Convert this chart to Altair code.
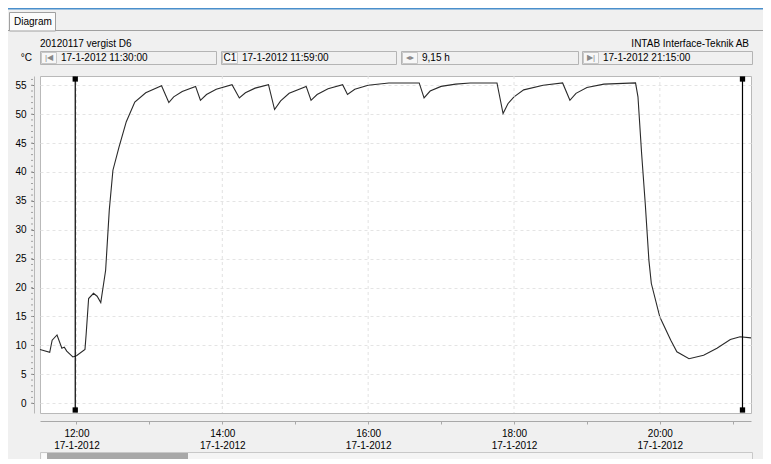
import altair as alt
import pandas as pd

# ---------------- data ----------------
times = ["11:30","11:38","11:40","11:44","11:48","11:50","11:52","11:57","12:00","12:07",
         "12:08","12:10","12:14","12:17","12:20","12:24","12:27","12:30","12:35","12:41",
         "12:48","12:57","13:10","13:16","13:20","13:27","13:38","13:42","13:47","13:55",
         "14:08","14:14","14:19","14:27","14:38","14:43","14:48","14:55","15:09","15:13",
         "15:18","15:27","15:39","15:43","15:49","16:00","16:17","16:42","16:46","16:51",
         "17:00","17:12","17:24","17:46","17:51","17:55","18:00","18:08","18:24","18:40",
         "18:46","18:51","19:00","19:14","19:40","19:42","19:45","19:48","19:51","19:53",
         "20:00","20:09","20:14","20:24","20:36","20:47","20:58","21:06","21:15"]
temps = [9.3, 8.8, 10.9, 11.8, 9.5, 9.7, 9.0, 8.0, 8.2, 9.3,
         12.0, 18.1, 19.0, 18.5, 17.4, 23.0, 33.4, 40.3, 44.3, 48.7,
         52.1, 53.7, 54.9, 52.0, 53.0, 53.9, 54.8, 52.4, 53.4, 54.3,
         55.1, 52.8, 53.7, 54.5, 55.1, 50.8, 52.3, 53.6, 54.8, 52.4,
         53.4, 54.4, 55.1, 53.4, 54.3, 55.0, 55.4, 55.4, 52.8, 54.0,
         54.8, 55.2, 55.4, 55.4, 50.1, 51.8, 53.0, 54.2, 55.0, 55.4,
         52.4, 53.6, 54.6, 55.2, 55.4, 53.0, 43.2, 34.5, 24.7, 20.7,
         14.9, 10.9, 8.9, 7.7, 8.3, 9.5, 11.0, 11.5, 11.3]
cursor_times = ["11:59", "21:08"]
hour_ticks = [12, 13, 14, 15, 16, 17, 18, 19, 20, 21]
grid_hours = ["12:00", "14:00", "16:00", "18:00", "20:00"]
y_major = [0, 5, 10, 15, 20, 25, 30, 35, 40, 45, 50, 55]
y_minor = list(range(0, 57))
tab_label = "Diagram"
title_left = "20120117 vergist D6"
title_right = "INTAB Interface-Teknik AB"
unit_label = "°C"
box_texts = ["17-1-2012 11:30:00", "17-1-2012 11:59:00", "9,15 h", "17-1-2012 21:15:00"]
box_icons = ["|◀", "C1", "◂▸", "▶|"]

DAY = "2012-01-17T"
FONT = "Liberation Sans"

df = pd.DataFrame({"time": [DAY + t + ":00" for t in times], "temp": temps})
cur = pd.DataFrame({"time": [DAY + t + ":00" for t in cursor_times]})
grid = pd.DataFrame({"time": [DAY + t + ":00" for t in grid_hours]})
minor = pd.DataFrame({"temp": y_minor})
one = pd.DataFrame({"a": [0]})

xscale = alt.Scale(domain=[alt.DateTime(year=2012, month=1, date=17, hours=11, minutes=30),
                           alt.DateTime(year=2012, month=1, date=17, hours=21, minutes=15)])
yscale = alt.Scale(domain=[-1.7, 56.6], nice=False, zero=False)

X_AXIS = alt.Axis(values=[alt.DateTime(year=2012, month=1, date=17, hours=h) for h in hour_ticks],
                  labelExpr="hours(datum.value) % 2 == 0 ? [timeFormat(datum.value, '%H:%M'), timeFormat(datum.value, '%-d-%-m-%Y')] : ''",
                  offset=8, tickSize=3, domainColor="#a8a8a8", tickColor="#a8a8a8",
                  labelColor="#000000", labelFont=FONT, labelFontSize=10, labelPadding=4,
                  labelLineHeight=12, labelOverlap=False, labelFlush=False, grid=False, title=None)
Y_AXIS = alt.Axis(values=y_major, offset=6, tickSize=3, grid=True, gridDash=[3, 3],
                  gridColor="#e4e4e4", domainColor="#b8b8b8", tickColor="#808080",
                  labelColor="#000000", labelFont=FONT, labelFontSize=10, labelPadding=5,
                  title=None)


def X():
    return alt.X("time:T", scale=xscale, axis=X_AXIS)


def Y():
    return alt.Y("temp:Q", scale=yscale, axis=Y_AXIS)


W, H = 711, 337

# ---------------- plot layers ----------------
line = alt.Chart(df).mark_line(color="#2a2a2a", strokeWidth=1.1).encode(x=X(), y=Y())

xgrid = alt.Chart(grid).mark_rule(color="#e2e2e2", strokeDash=[3, 3], strokeWidth=1).encode(x=X())

minor_ticks = alt.Chart(minor).mark_rule(color="#a0a0a0", strokeWidth=1).encode(
    y=Y(), x=alt.value(-9), x2=alt.value(-7))

cursor_rules = alt.Chart(cur).mark_rule(color="#000000", strokeWidth=1.2).encode(
    x=X(), y=alt.value(3), y2=alt.value(334))
cursor_top = alt.Chart(cur).mark_square(color="#000000", size=28, opacity=1).encode(
    x=X(), y=alt.value(3))
cursor_bot = alt.Chart(cur).mark_square(color="#000000", size=28, opacity=1).encode(
    x=X(), y=alt.value(334))


# ---------------- window decorations ----------------
def rect(x1, y1, x2, y2, fill, stroke=None):
    kw = {"fill": fill}
    if stroke:
        kw["stroke"] = stroke
        kw["strokeWidth"] = 1
    return alt.Chart(one).mark_rect(**kw).encode(
        x=alt.value(x1), x2=alt.value(x2), y=alt.value(y1), y2=alt.value(y2))


def hline(x1, x2, y, color):
    return alt.Chart(one).mark_rule(color=color, strokeWidth=1).encode(
        x=alt.value(x1), x2=alt.value(x2), y=alt.value(y))


def txt(s, x, y, align="left", size=10, color="#000000"):
    return alt.Chart(pd.DataFrame({"t": [s]})).mark_text(
        align=align, baseline="middle", font=FONT, fontSize=size, color=color).encode(
        x=alt.value(x), y=alt.value(y), text="t:N")


deco = [
    rect(-32, -68, 723, -66.5, "#4a8fcc"),
    hline(15, 723, -45.5, "#a0a0a0"),
    hline(-32, -30, -45.5, "#a0a0a0"),
    rect(-30.5, -63.5, 15.5, -45, "#fbfbfb", "#a0a0a0"),
    txt(tab_label, -26, -54),
    txt(title_left, 0, -32),
    txt(title_right, 709, -32, align="right"),
    txt(unit_label, -8, -18.5, align="right"),
]

box_x = [(0, 176), (181, 356), (361, 538), (542, 712)]
for (bx1, bx2), label, icon in zip(box_x, box_texts, box_icons):
    deco.append(rect(bx1 + 0.5, -24.5, bx2 + 0.5, -11.5, "#f0f0f0", "#b4b4b4"))
    deco.append(rect(bx1 + 1.5, -23.5, bx1 + 16.5, -12.5, "#f7f7f7", "#c8c8c8"))
    deco.append(txt(icon, bx1 + 9, -18, align="center", size=8 if icon != "C1" else 10,
                    color="#000000" if icon == "C1" else "#888888"))
    deco.append(txt(label, bx1 + 21, -18))

# scrollbar
deco.append(rect(0.5, 376.5, 712.5, 385.5, "#f4f4f4", "#c8c8c8"))
deco.append(rect(1.5, 377.5, 7, 384.5, "#fbfbfb"))
deco.append(rect(7, 377, 148, 383, "#a8a8a8"))

chart = alt.layer(line, xgrid, minor_ticks, cursor_rules, cursor_top, cursor_bot, *deco).properties(
    width=W, height=H,
    autosize=alt.AutoSizeParams(type="none"),
    padding={"left": 32, "top": 68, "right": 12, "bottom": 46},
    background="#f0f0f0",
).configure_view(fill="#ffffff", stroke="#b9b9b9", strokeWidth=1)

chart.save("out.html", embed_options={"renderer": "svg", "actions": False})
